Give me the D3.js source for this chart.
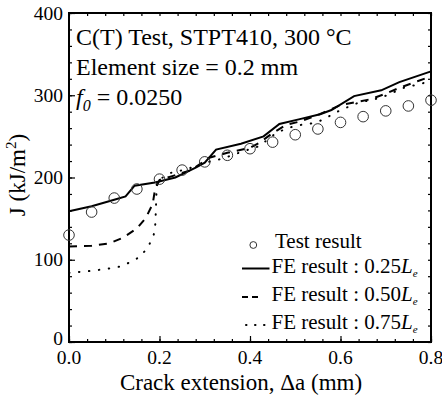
<!DOCTYPE html>
<html>
<head>
<meta charset="utf-8">
<script src="https://cdn.jsdelivr.net/npm/d3@7"></script>
<style>
body { margin: 0; background: #fff; }
text { font-family: "Liberation Serif", "Times New Roman", serif; fill: #000; }
</style>
</head>
<body>
<svg width="442" height="398"></svg>
<script>
// test result (circles)
var testX = [0, 0.05, 0.1, 0.15, 0.2, 0.25, 0.3, 0.35, 0.4, 0.45, 0.5, 0.55, 0.6, 0.65, 0.7, 0.75, 0.8];
var testJ = [130, 158, 175, 186, 198, 209, 219, 227, 235, 243, 252, 259, 267, 274, 281, 287, 294];

// FE result 0.25Le (solid)
var fe25X = [0, 0.05, 0.1, 0.125, 0.145, 0.19, 0.235, 0.28, 0.3, 0.325, 0.38, 0.43, 0.465, 0.51, 0.555, 0.58, 0.63, 0.69, 0.73, 0.8];
var fe25J = [159, 165, 173, 177, 190, 194, 200, 212, 218, 234, 241, 250, 265, 271, 277, 282, 299, 306, 316, 329];

// FE result 0.50Le (dashed)
var fe50X = [0, 0.05, 0.09, 0.12, 0.15, 0.17, 0.185, 0.19, 0.2, 0.23, 0.27, 0.31, 0.35, 0.4, 0.42, 0.45, 0.48, 0.51, 0.55, 0.6, 0.665, 0.7, 0.73, 0.77, 0.8];
var fe50J = [116, 117, 120, 127, 138, 151, 168, 185, 197, 202, 209, 224, 230, 236, 242, 254, 264, 268, 276, 288, 295, 302, 309, 317, 323];

// FE result 0.75Le (dotted)
var fe75X = [0, 0.02, 0.05, 0.07, 0.09, 0.115, 0.135, 0.155, 0.17, 0.183, 0.19, 0.192, 0.194, 0.22, 0.26, 0.3, 0.34, 0.38, 0.42, 0.46, 0.5, 0.54, 0.56, 0.6, 0.64, 0.69, 0.74, 0.8];
var fe75J = [84, 85, 86.5, 88, 89.5, 92, 97, 103, 112, 124, 135, 160, 195, 205, 210, 218, 223, 231, 238, 255, 263, 266, 270, 282, 291, 297, 309, 317];

var xTicks = [0, 0.2, 0.4, 0.6, 0.8];
var yTicks = [0, 100, 200, 300, 400];

var svg = d3.select('svg');
var mLeft = 69, mRight = 431, mTop = 13, mBottom = 342;

var x = d3.scaleLinear().domain([0, 0.8]).range([mLeft, mRight]);
var y = d3.scaleLinear().domain([0, 400]).range([mBottom, mTop]);

// axes, ticks inward on all sides
var xMinor = d3.range(0, 0.8001, 0.04);
var yMinor = d3.range(0, 400.1, 20);

svg.append('g').attr('transform', 'translate(0,' + mBottom + ')')
    .call(d3.axisTop(x).tickValues(xMinor).tickSize(3).tickFormat(''));
svg.append('g').attr('transform', 'translate(0,' + mBottom + ')')
    .call(d3.axisTop(x).tickValues(xTicks).tickSize(6).tickFormat(''));
svg.append('g').attr('transform', 'translate(0,' + mTop + ')')
    .call(d3.axisBottom(x).tickValues(xMinor).tickSize(3).tickFormat(''));
svg.append('g').attr('transform', 'translate(' + mLeft + ',0)')
    .call(d3.axisRight(y).tickValues(yMinor).tickSize(3).tickFormat(''));
svg.append('g').attr('transform', 'translate(' + mLeft + ',0)')
    .call(d3.axisRight(y).tickValues(yTicks).tickSize(6).tickFormat(''));
svg.append('g').attr('transform', 'translate(' + mRight + ',0)')
    .call(d3.axisLeft(y).tickValues(yMinor).tickSize(3).tickFormat(''));
svg.selectAll('.domain').remove();
svg.selectAll('.tick line').attr('stroke', '#000').attr('stroke-width', 1.2);

svg.append('rect')
    .attr('x', mLeft).attr('y', mTop)
    .attr('width', mRight - mLeft).attr('height', mBottom - mTop)
    .attr('fill', 'none').attr('stroke', '#000').attr('stroke-width', 2);

// tick labels
svg.selectAll('.xlab').data(xTicks).enter().append('text')
    .attr('x', function(d){ return x(d); })
    .attr('y', 364)
    .attr('text-anchor', 'middle')
    .attr('font-size', 19.5)
    .text(function(d){ return d.toFixed(1); });

svg.selectAll('.ylab').data(yTicks).enter().append('text')
    .attr('x', 63)
    .attr('y', function(d){ return y(d) + (d === 0 ? 3 : 6.5); })
    .attr('text-anchor', 'end')
    .attr('font-size', 19.5)
    .text(function(d){ return d; });

// axis titles
svg.append('text')
    .attr('x', 241).attr('y', 390)
    .attr('text-anchor', 'middle')
    .attr('font-size', 23)
    .text('Crack extension, \u0394a (mm)');

var yt = svg.append('text')
    .attr('transform', 'translate(25,175) rotate(-90)')
    .attr('text-anchor', 'middle')
    .attr('font-size', 23);
yt.append('tspan').text('J (kJ/m');
yt.append('tspan').attr('font-size', 15).attr('dy', -9).text('2');
yt.append('tspan').attr('dy', 9).text(')');

// lines
var line = d3.line()
    .x(function(d){ return x(d[0]); })
    .y(function(d){ return y(d[1]); });

function pairs(xs, ys) { return xs.map(function(v, i){ return [v, ys[i]]; }); }

svg.append('path').datum(pairs(fe25X, fe25J))
    .attr('d', line).attr('fill', 'none')
    .attr('stroke', '#000').attr('stroke-width', 2);

svg.append('path').datum(pairs(fe50X, fe50J))
    .attr('d', line).attr('fill', 'none')
    .attr('stroke', '#000').attr('stroke-width', 2)
    .attr('stroke-dasharray', '8,7');

svg.append('path').datum(pairs(fe75X, fe75J))
    .attr('d', line).attr('fill', 'none')
    .attr('stroke', '#000').attr('stroke-width', 2)
    .attr('stroke-linecap', 'round')
    .attr('stroke-dasharray', '0.5,9.5');

// test circles
svg.selectAll('.pt').data(pairs(testX, testJ)).enter().append('circle')
    .attr('cx', function(d){ return x(d[0]); })
    .attr('cy', function(d){ return y(d[1]); })
    .attr('r', 5.3)
    .attr('fill', 'none')
    .attr('stroke', '#333').attr('stroke-width', 1);

// annotation
svg.append('text').attr('x', 76).attr('y', 45).attr('font-size', 24)
    .text('C(T) Test, STPT410, 300 \u00b0C');
svg.append('text').attr('x', 76).attr('y', 75).attr('font-size', 24)
    .text('Element size = 0.2 mm');
var f0 = svg.append('text').attr('x', 76).attr('y', 105).attr('font-size', 24);
f0.append('tspan').attr('font-style', 'italic').text('f');
f0.append('tspan').attr('font-style', 'italic').attr('font-size', 16).attr('dy', 6).text('0');
f0.append('tspan').attr('dy', -6).text(' = 0.0250');

// legend
var lg = svg.append('g');
lg.append('circle').attr('cx', 253.3).attr('cy', 245).attr('r', 3.4)
    .attr('fill', 'none').attr('stroke', '#333').attr('stroke-width', 1);
lg.append('text').attr('x', 275).attr('y', 248).attr('font-size', 21).text('Test result');

var legItems = [
    { y: 268.5, x1: 242, x2: 269.5, dash: null, label: '0.25' },
    { y: 297, x1: 242, x2: 258.5, dash: '6,4', label: '0.50' },
    { y: 325, x1: 246, x2: 266, dash: '0.5,8.5', label: '0.75' }
];
legItems.forEach(function(it){
    var l = lg.append('line').attr('x1', it.x1).attr('x2', it.x2)
        .attr('y1', it.y).attr('y2', it.y)
        .attr('stroke', '#000').attr('stroke-width', 2);
    if (it.dash) l.attr('stroke-dasharray', it.dash);
    if (it.label === '0.75') l.attr('stroke-linecap', 'round');
    var t = lg.append('text').attr('x', 271.5).attr('y', it.y + 4).attr('font-size', 21);
    t.append('tspan').text('FE result : ' + it.label);
    t.append('tspan').attr('font-style', 'italic').text('L');
    t.append('tspan').attr('font-style', 'italic').attr('font-size', 11).attr('dy', 4).text('e');
});
</script>
</body>
</html>
